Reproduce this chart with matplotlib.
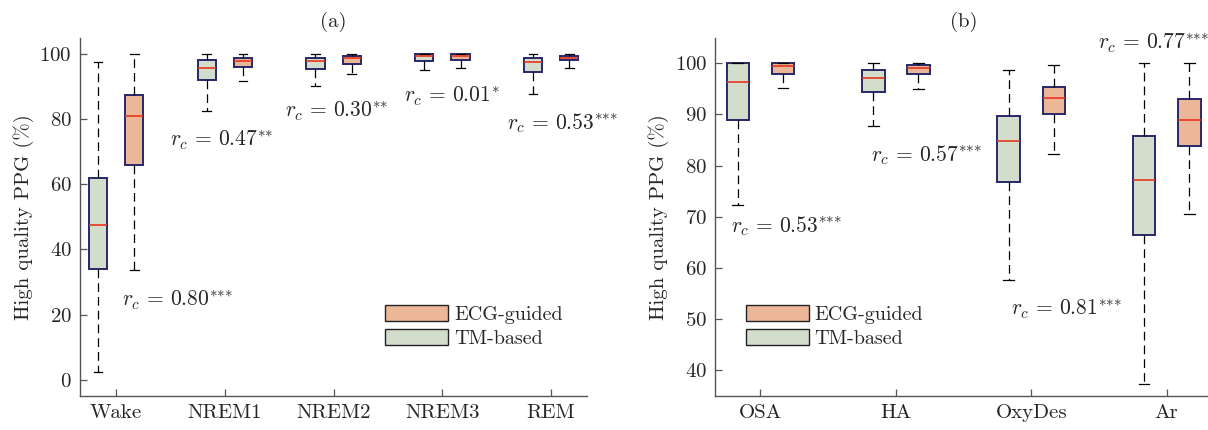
import matplotlib
matplotlib.use("Agg")
import matplotlib.pyplot as plt
from matplotlib.patches import Patch

# sleep stages, panel (a)
stages = ["Wake", "NREM1", "NREM2", "NREM3", "REM"]
tm_st_lo = [2.4, 82.6, 90.2, 95.1, 87.8]
tm_st_q1 = [33.9, 91.9, 95.3, 97.9, 94.5]
tm_st_med = [47.6, 95.8, 97.9, 99.5, 97.4]
tm_st_q3 = [62.0, 98.1, 98.9, 100.0, 98.8]
tm_st_hi = [97.6, 100.0, 100.0, 100.0, 100.0]
ecg_st_lo = [33.6, 91.8, 93.8, 95.7, 95.7]
ecg_st_q1 = [66.0, 96.0, 97.0, 98.2, 98.1]
ecg_st_med = [80.9, 97.8, 98.7, 99.5, 98.9]
ecg_st_q3 = [87.4, 98.8, 99.5, 100.0, 99.5]
ecg_st_hi = [100.0, 100.0, 100.0, 100.0, 100.0]
st_rc = ["0.80", "0.47", "0.30", "0.01", "0.53"]
st_sig = [3, 2, 2, 1, 3]

# events, panel (b)
events = ["OSA", "HA", "OxyDes", "Ar"]
tm_ev_lo = [72.3, 87.7, 57.6, 37.4]
tm_ev_q1 = [88.9, 94.3, 76.8, 66.4]
tm_ev_med = [96.3, 97.1, 84.8, 77.2]
tm_ev_q3 = [100.0, 98.6, 89.7, 85.7]
tm_ev_hi = [100.0, 100.0, 98.7, 100.0]
ecg_ev_lo = [95.2, 95.0, 82.3, 70.5]
ecg_ev_q1 = [98.0, 97.9, 90.0, 83.9]
ecg_ev_med = [99.5, 99.1, 93.3, 88.9]
ecg_ev_q3 = [100.0, 99.7, 95.3, 93.0]
ecg_ev_hi = [100.0, 100.0, 99.7, 100.0]
ev_rc = ["0.53", "0.57", "0.81", "0.77"]
ev_sig = [3, 3, 3, 3]

# where the r_c labels go (data coords, left edge / centre)
st_txt_xy = [(1.05, 24.5), (1.49, 73.6), (2.55, 82.5), (3.65, 87.0), (4.595, 78.7)]
ev_txt_xy = [(0.78, 68.2), (1.815, 82.1), (2.85, 52.0), (3.49, 104.0)]

plt.rcParams["font.family"] = "serif"
plt.rcParams["font.serif"] = ["cmr10", "DejaVu Serif"]
plt.rcParams["mathtext.fontset"] = "cm"
plt.rcParams["axes.formatter.use_mathtext"] = True
plt.rcParams["font.size"] = 15

TM_COL = "#d2ddcc"
ECG_COL = "#ebb798"
EDGE = "#28286a"
MED = "#e8361f"
TXT = "#262626"
SPINE = "#555555"


def stats(lo, q1, med, q3, hi):
    return [dict(whislo=a, q1=b, med=c, q3=d, whishi=e, fliers=[])
            for a, b, c, d, e in zip(lo, q1, med, q3, hi)]


def draw(ax, pos, st, col):
    bp = ax.bxp(st, positions=pos, widths=0.167, capwidths=0.08,
                patch_artist=True, showfliers=False, manage_ticks=False,
                boxprops=dict(facecolor=col, edgecolor=EDGE, linewidth=1.4),
                medianprops=dict(color=MED, linewidth=1.2),
                whiskerprops=dict(color="k", linewidth=0.9, linestyle=(0, (7, 4))),
                capprops=dict(color="k", linewidth=0.9))
    return bp


def style(ax, labels, ylim, yticks, title):
    n = len(labels)
    ax.set_xlim(2 / 3, n + 1 / 3)
    ax.set_ylim(*ylim)
    ax.set_xticks(range(1, n + 1))
    ax.set_xticklabels(labels)
    ax.set_yticks(yticks)
    for s in ["top", "right"]:
        ax.spines[s].set_visible(False)
    for s in ["left", "bottom"]:
        ax.spines[s].set_color(SPINE)
        ax.spines[s].set_linewidth(1.0)
    ax.tick_params(direction="in", length=5, width=0.9, color=SPINE,
                   labelcolor=TXT, pad=6)
    ax.set_ylabel("High quality PPG (%)", color=TXT)
    ax.set_title(title, color=TXT, fontsize=15, pad=8)
    h = [Patch(facecolor=ECG_COL, edgecolor="#222222", linewidth=1.0, label="ECG-guided"),
         Patch(facecolor=TM_COL, edgecolor="#222222", linewidth=1.0, label="TM-based")]
    return h


def rc_label(r, n):
    stars = "".join(["{*}"] * n)
    return r"$r_c\,=\,%s^{%s}$" % (r, stars)


fig = plt.figure(figsize=(12.08, 4.30), dpi=100)
ax1 = fig.add_axes([80 / 1208, 34 / 430, 507.3 / 1208, 358.3 / 430])
ax2 = fig.add_axes([715.3 / 1208, 34 / 430, 496.5 / 1208, 358.3 / 430])

# panel (a)
xa = list(range(1, len(stages) + 1))
draw(ax1, [x - 0.167 for x in xa], stats(tm_st_lo, tm_st_q1, tm_st_med, tm_st_q3, tm_st_hi), TM_COL)
draw(ax1, [x + 0.167 for x in xa], stats(ecg_st_lo, ecg_st_q1, ecg_st_med, ecg_st_q3, ecg_st_hi), ECG_COL)
h = style(ax1, stages, (-5, 105), range(0, 101, 20), "(a)")
for (x, y), r, s in zip(st_txt_xy, st_rc, st_sig):
    ax1.text(x, y, rc_label(r, s), ha="left", va="center", color=TXT, fontsize=15.5)
ax1.legend(handles=h, loc="upper left", bbox_to_anchor=(0.602, 0.255), frameon=False,
           handlelength=3.1, handleheight=0.85, handletextpad=0.3, labelspacing=0.25,
           borderpad=0, borderaxespad=0, fontsize=14.5, labelcolor=TXT)

# panel (b)
xb = list(range(1, len(events) + 1))
draw(ax2, [x - 0.167 for x in xb], stats(tm_ev_lo, tm_ev_q1, tm_ev_med, tm_ev_q3, tm_ev_hi), TM_COL)
draw(ax2, [x + 0.167 for x in xb], stats(ecg_ev_lo, ecg_ev_q1, ecg_ev_med, ecg_ev_q3, ecg_ev_hi), ECG_COL)
h = style(ax2, events, (35, 105), range(40, 101, 10), "(b)")
for (x, y), r, s in zip(ev_txt_xy, ev_rc, ev_sig):
    ax2.text(x, y, rc_label(r, s), ha="left", va="center", color=TXT, fontsize=15.5,
             clip_on=False)
ax2.legend(handles=h, loc="upper left", bbox_to_anchor=(0.062, 0.255), frameon=False,
           handlelength=3.1, handleheight=0.85, handletextpad=0.3, labelspacing=0.25,
           borderpad=0, borderaxespad=0, fontsize=14.5, labelcolor=TXT)

fig.savefig("out.png", dpi=100)
